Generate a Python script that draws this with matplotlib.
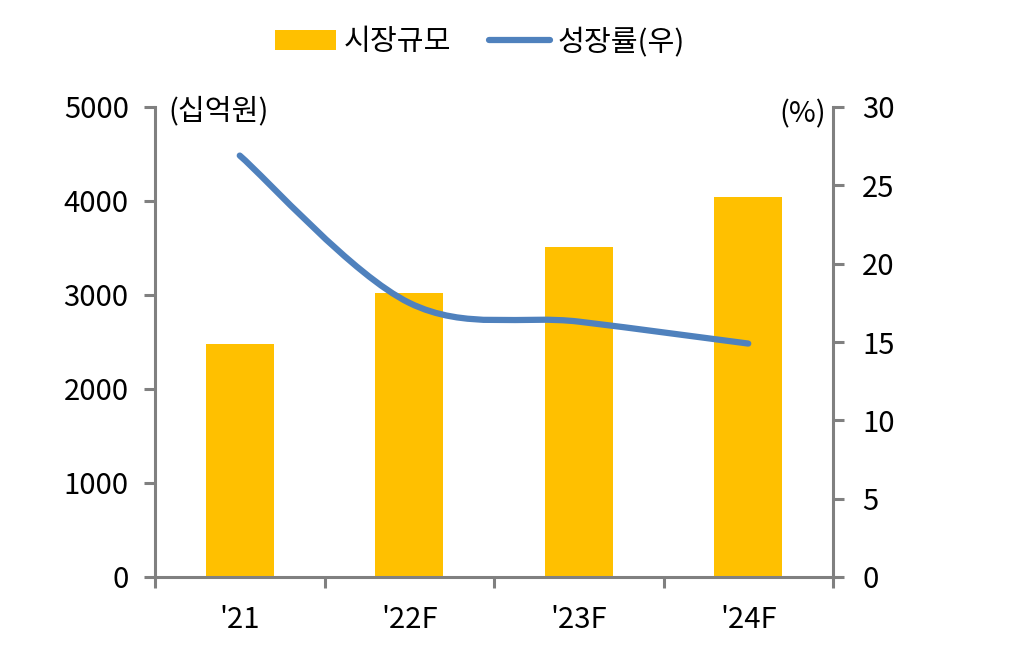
import matplotlib
matplotlib.use("Agg")
import matplotlib.pyplot as plt
from matplotlib.path import Path
from matplotlib.patches import PathPatch, Patch
from matplotlib.lines import Line2D
import numpy as np

plt.rcParams['font.family'] = ['Noto Sans CJK KR', 'DejaVu Sans']
plt.rcParams['font.weight'] = 'light'

categories = ["'21", "'22F", "'23F", "'24F"]
market_size = [2480, 3020, 3515, 4040]
growth_rate = [26.9, 17.5, 16.3, 14.9]

BAR_COLOR = '#FFC000'
LINE_COLOR = '#4F81BD'
AX_COLOR = '#808080'
FS = 21

fig = plt.figure(figsize=(10.09, 6.52), dpi=100)
ax = fig.add_axes([155/1009, 1-577/652, (833-155)/1009, (577-107)/652])
ax2 = ax.twinx()

x = np.arange(len(categories))
ax.bar(x, market_size, width=0.4, color=BAR_COLOR, zorder=2)
ax.set_xlim(-0.5, len(categories)-0.5)
ax.set_ylim(0, 5000)
ax.set_yticks(range(0, 5001, 1000))
ax2.set_ylim(0, 30)
ax2.set_yticks(range(0, 31, 5))

# smooth line (Catmull-Rom style Bezier through data points)
pts = np.column_stack([x, growth_rate]).astype(float)
verts = [tuple(pts[0])]
codes = [Path.MOVETO]
n = len(pts)
for i in range(n-1):
    p0 = pts[i-1] if i > 0 else pts[i]
    p1 = pts[i]
    p2 = pts[i+1]
    p3 = pts[i+2] if i+2 < n else pts[i+1]
    c1 = p1 + (p2 - p0) / 6.0
    c2 = p2 - (p3 - p1) / 6.0
    verts += [tuple(c1), tuple(c2), tuple(p2)]
    codes += [Path.CURVE4]*3
path = Path(verts, codes)
ax2.add_patch(PathPatch(path, facecolor='none', edgecolor=LINE_COLOR, lw=4.5,
                        capstyle='round', joinstyle='round', zorder=3))

for a in (ax, ax2):
    for s in a.spines.values():
        s.set_visible(False)
ax.spines['left'].set_visible(True)
ax.spines['bottom'].set_visible(True)
ax2.spines['right'].set_visible(True)
for s in (ax.spines['left'], ax.spines['bottom'], ax2.spines['right']):
    s.set_color(AX_COLOR)
    s.set_linewidth(2.2)

ax.set_xticks([])
ax.set_xticks(np.arange(-0.5, len(categories), 1.0), minor=True)
ax.tick_params(axis='x', which='minor', length=8, width=2.2, color=AX_COLOR, direction='out')
ax.tick_params(axis='y', length=8, width=2.2, color=AX_COLOR, direction='out',
               labelsize=FS, pad=11)
ax2.tick_params(axis='y', length=8, width=2.2, color=AX_COLOR, direction='out',
                labelsize=FS, pad=13)
for i, c in enumerate(categories):
    ax.text(i, -0.092, c, transform=ax.get_xaxis_transform(), ha='center', va='center',
            fontsize=FS)

ax.text(0.02, 0.99, '(십억원)', transform=ax.transAxes, ha='left', va='center', fontsize=FS)
ax.text(0.99, 0.985, '(%)', transform=ax.transAxes, ha='right', va='center', fontsize=FS)

handles = [Patch(facecolor=BAR_COLOR, edgecolor='none'),
           Line2D([0], [0], color=LINE_COLOR, lw=4.5, solid_capstyle='round')]
fig.legend(handles, ['시장규모', '성장률(우)'], loc='center', bbox_to_anchor=(480/1009, 1-42/652),
           ncol=2, frameon=False, fontsize=FS, handlelength=2.1, handletextpad=0.25,
           columnspacing=1.3, handleheight=0.7)

fig.savefig('out.png', dpi=100, facecolor='white')
